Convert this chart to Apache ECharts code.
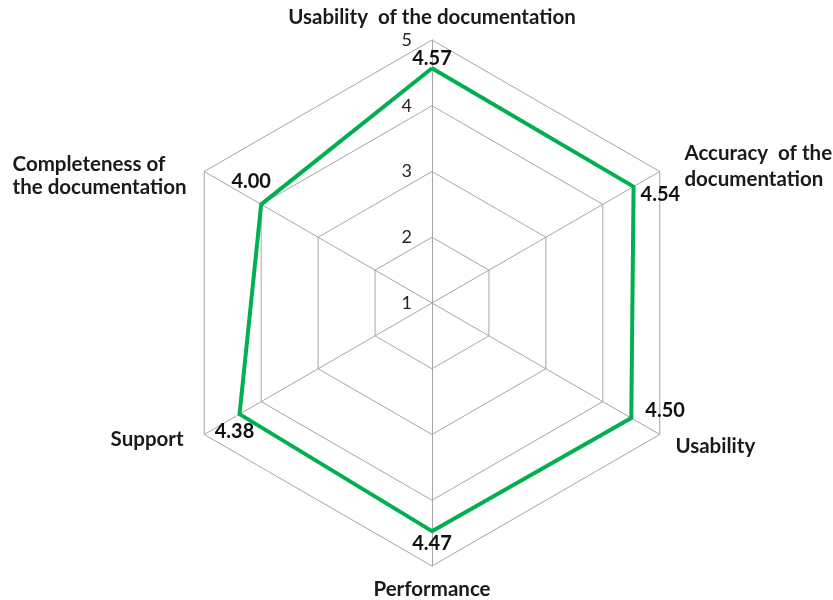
<!DOCTYPE html>
<html>
<head>
<meta charset="utf-8">
<script src="https://cdn.jsdelivr.net/npm/echarts@6/dist/echarts.min.js"></script>
<style>
  html, body { margin: 0; padding: 0; background: #fff; }
</style>
</head>
<body>
<div id="main" style="width: 833px;height:600px;"></div>
<script type="text/javascript">
    // indicators listed counterclockwise from the top (ECharts order)
    var names = ['Usability  of the documentation', 'Completeness of\nthe documentation', 'Support',
        'Performance', 'Usability', 'Accuracy  of the\ndocumentation'];
    var scores = [4.57, 4.00, 4.38, 4.47, 4.50, 4.54];
    var ticks = [1, 2, 3, 4, 5];

    // label placement per vertex
    var labelPos = [
        {position: 'top', offset: [0, 5]},
        {position: 'top', offset: [-10, -8]},
        {position: 'bottom', offset: [-5, 2]},
        {position: 'bottom', offset: [0, -3]},
        {position: 'right', offset: [9, -8]},
        {position: 'right', offset: [2, 8]}
    ];
    // rich style key used for each axis name
    var nameKey = ['t', 'c', 's', 't', 'u', 'a'];

    var myChart = echarts.init(document.getElementById('main'));
    var font = 'Lato, "Open Sans", sans-serif';
    var txt = '#1a1a1a';

    var indicator = names.map(function (n, i) {
        var ind = {name: n, min: ticks[0], max: ticks[ticks.length - 1]};
        if (i === 0) {
            ind.axisLabel = {show: true, color: '#262626', fontFamily: font, fontSize: 18, margin: 20,
                formatter: function (v) { return v; }};
        }
        return ind;
    });

    var series = [{
        type: 'radar',
        symbol: 'none',
        lineStyle: {color: '#00b050', width: 4},
        data: [{value: scores}],
        silent: true,
        z: 3
    }];
    // one invisible radar per value label so each label can sit on its own side
    scores.forEach(function (s, i) {
        series.push({
            type: 'radar',
            symbol: 'circle',
            symbolSize: 2,
            itemStyle: {color: 'rgba(0,0,0,0)'},
            lineStyle: {color: 'rgba(0,0,0,0)', width: 0},
            silent: true,
            z: 4,
            data: [{value: scores}],
            label: {
                show: true,
                position: labelPos[i].position,
                offset: labelPos[i].offset,
                distance: 4,
                color: '#111',
                fontFamily: font,
                fontWeight: 'bold',
                fontSize: 20,
                formatter: function (p) {
                    var v = p.value;
                    if (Array.isArray(v)) {
                        v = p.dimensionIndex != null ? v[p.dimensionIndex] : null;
                    }
                    return v === s ? s.toFixed(2) : '';
                }
            }
        });
    });

    function rs(extra) {
        var o = {fontFamily: font, fontWeight: 'bold', fontSize: 20.5, color: txt, lineHeight: 26};
        for (var k in extra) o[k] = extra[k];
        return o;
    }

    var option = {
        backgroundColor: '#fff',
        radar: {
            center: [432, 303],
            radius: 263,
            shape: 'polygon',
            splitNumber: 4,
            startAngle: 90,
            indicator: indicator,
            axisName: {
                color: txt,
                fontFamily: font,
                fontWeight: 'bold',
                fontSize: 20.5,
                lineHeight: 26,
                formatter: function (name) {
                    var k = nameKey[names.indexOf(name)];
                    return name.split('\n').map(function (l, j) {
                        return '{' + k + (j === 0 ? '1' : '2') + '|' + l + '}';
                    }).join('\n');
                },
                rich: {
                    t1: rs({}), t2: rs({}),
                    s1: rs({padding: [0, 12, 0, 0]}), s2: rs({padding: [0, 12, 0, 0]}),
                    u1: rs({padding: [14, 0, 0, 7]}), u2: rs({padding: [0, 0, 0, 7]}),
                    a1: rs({padding: [0, 0, 0, 16]}), a2: rs({padding: [0, 0, 0, 16]}),
                    c1: rs({padding: [22, 6, 0, 0], width: 177, align: 'left'}),
                    c2: rs({padding: [16, 6, 0, 0], width: 177, align: 'left'})
                }
            },
            nameGap: 10,
            axisLine: {lineStyle: {color: '#a6a6a6', width: 1}},
            splitLine: {lineStyle: {color: '#a6a6a6', width: 1}},
            splitArea: {show: false},
            axisTick: {show: false},
            axisLabel: {show: false}
        },
        series: series
    };

    myChart.setOption(option);
</script>
</body>
</html>
